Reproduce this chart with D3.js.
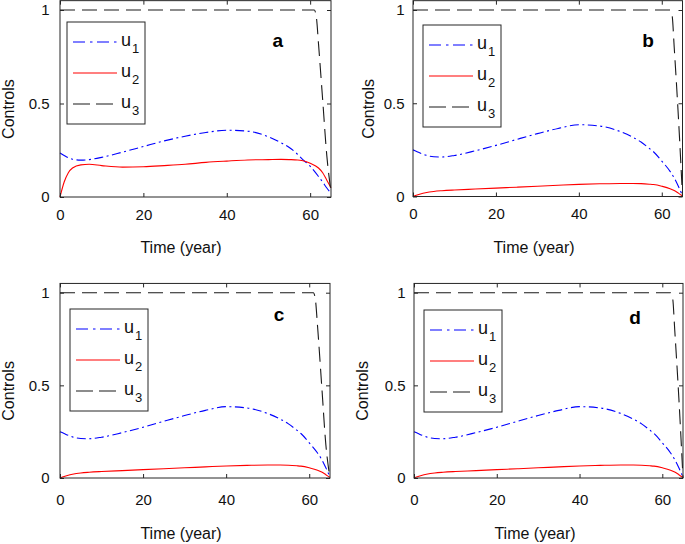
<!DOCTYPE html>
<html><head><meta charset="utf-8">
<script src="https://cdn.jsdelivr.net/npm/d3@7"></script>
<style>body{margin:0;background:#fff} svg{display:block}</style>
</head><body>
<svg id="chart" width="685" height="544"></svg>
<script>
// ---- data ----
const time = [0,1,2,3,5,7,10,15,20,25,30,35,40,45,50,53,55,57,58,60,62,63,64,65];
const u1A = [0.235,0.222,0.21,0.202,0.197,0.2,0.212,0.24,0.27,0.3,0.325,0.345,0.357,0.352,0.322,0.29,0.265,0.228,0.205,0.165,0.11,0.08,0.048,0.02];
const u2A = [0,0.08,0.13,0.155,0.172,0.175,0.168,0.16,0.162,0.168,0.175,0.185,0.192,0.198,0.2,0.201,0.2,0.198,0.195,0.18,0.155,0.13,0.09,0.05];
const u1B = [0.25,0.24,0.23,0.222,0.213,0.212,0.22,0.245,0.274,0.306,0.337,0.365,0.385,0.378,0.348,0.318,0.292,0.258,0.24,0.19,0.135,0.1,0.055,0.005];
const u2B = [0,0.008,0.015,0.02,0.027,0.031,0.035,0.04,0.045,0.05,0.055,0.06,0.065,0.068,0.07,0.07,0.069,0.066,0.064,0.055,0.042,0.032,0.018,0.003];
const timeU3Early = [0,61,61.5,62,63,64,65];
const u3A = [1,1,0.96,0.82,0.52,0.22,0.03];
const u3C = [1,1,0.96,0.82,0.5,0.18,0];
const timeU3Late = [0,62,62.5,63,64,65];
const u3B = [1,1,0.97,0.8,0.43,0];

const panelLabels = ["a","b","c","d"];
const seriesSubscripts = ["1","2","3"];
const xTicks = [0,20,40,60];
const yTicks = [0,0.5,1];
const xTitle = "Time (year)";
const yTitle = "Controls";

const panelSeries = [
  [[time,u1A],[time,u2A],[timeU3Early,u3A]],
  [[time,u1B],[time,u2B],[timeU3Late,u3B]],
  [[time,u1B],[time,u2B],[timeU3Early,u3C]],
  [[time,u1B],[time,u2B],[timeU3Late,u3B]]
];

// ---- layout ----
const layout = [
  {x0:60,  x1:331,   yb:197,   y1:10,    leg:[67,22],  lab:[277.7,46.7], tickPad:12,   titleDy:50.8, ylabX:8},
  {x0:413, x1:682.5, yb:196.5, y1:10,    leg:[423,25], lab:[648,47.3],   tickPad:12,   titleDy:51.3, ylabX:368},
  {x0:60,  x1:330,   yb:478,   y1:292.7, leg:[70,309], lab:[279,321.3],  tickPad:16.5, titleDy:55.5, ylabX:8},
  {x0:414, x1:683,   yb:478,   y1:292.7, leg:[424,310],lab:[635,324.3],  tickPad:16.5, titleDy:55.5, ylabX:362}
];
const yTop = 1.05;
const styles = [
  {color:"#0000ff", dash:"9,3.5,2,3.5", legDash:"12,5,2.5,4.5"},
  {color:"#ff0000", dash:null, legDash:null},
  {color:"#1a1a1a", dash:"15,7", legDash:"17,6"}
];
const axisColor = "#262626";
const textColor = "#111";
const font = "'Liberation Sans', Arial, Helvetica, sans-serif";

const svg = d3.select("#chart").style("font-family", font);

layout.forEach((L, i) => {
  const x = d3.scaleLinear().domain([0,65]).range([L.x0, L.x1]);
  const y = d3.scaleLinear().domain([0,1]).range([L.yb, L.y1]);
  const top = y(yTop);
  const g = svg.append("g");

  // series
  const line = d3.line().x(d => x(d[0])).y(d => y(d[1])).curve(d3.curveMonotoneX);
  panelSeries[i].forEach((s, k) => {
    const pts = s[0].map((t, j) => [t, s[1][j]]);
    g.append("path").attr("d", line(pts)).attr("fill","none")
      .attr("stroke", styles[k].color).attr("stroke-width", 1.1)
      .attr("stroke-dasharray", styles[k].dash);
  });

  // axes
  const xb = g.append("g").attr("transform", `translate(0,${L.yb})`)
    .call(d3.axisBottom(x).tickValues(xTicks).tickSizeInner(-4).tickSizeOuter(0).tickPadding(L.tickPad).tickFormat(d3.format("d")));
  const xt = g.append("g").attr("transform", `translate(0,${top})`)
    .call(d3.axisTop(x).tickValues(xTicks).tickSizeInner(-4).tickSizeOuter(0).tickFormat(""));
  const yl = g.append("g").attr("transform", `translate(${L.x0},0)`)
    .call(d3.axisLeft(y).tickValues(yTicks).tickSizeInner(-4).tickSizeOuter(0).tickPadding(i % 2 ? 8.5 : 10.5).tickFormat(d => d === 0.5 ? "0.5" : d3.format("d")(d)));
  const yr = g.append("g").attr("transform", `translate(${L.x1},0)`)
    .call(d3.axisRight(y).tickValues(yTicks).tickSizeInner(-4).tickSizeOuter(0).tickFormat(""));
  [xb,xt,yl,yr].forEach(a => {
    a.select(".domain").remove();
    a.selectAll("line").attr("stroke", axisColor);
    a.selectAll("text").attr("fill", textColor).style("font-size","15px").style("font-family", font);
  });

  // frame
  g.append("rect").attr("x", L.x0).attr("y", top).attr("width", L.x1 - L.x0).attr("height", L.yb - top)
    .attr("fill","none").attr("stroke", axisColor).attr("stroke-width", 1);

  // titles
  g.append("text").attr("x", L.x0 + 121).attr("y", L.yb + L.titleDy).attr("dy","0.35em")
    .attr("text-anchor","middle").style("font-size","16px").attr("fill",textColor).text(xTitle);
  g.append("text").attr("transform", `translate(${L.ylabX},${y(0.47)}) rotate(-90)`).attr("dy","0.35em")
    .attr("text-anchor","middle").style("font-size","16px").attr("fill",textColor).text(yTitle);

  // panel label
  g.append("text").attr("x", L.lab[0]).attr("y", L.lab[1]).attr("text-anchor","middle")
    .style("font-size","19px").style("font-weight","bold").attr("fill","#000").text(panelLabels[i]);

  // legend
  const lg = g.append("g").attr("transform", `translate(${L.leg[0]},${L.leg[1]})`);
  lg.append("rect").attr("width",78).attr("height",102).attr("fill","#fff").attr("stroke",axisColor).attr("stroke-width",1);
  seriesSubscripts.forEach((sub, k) => {
    const ly = 20 + k * 31;
    lg.append("line").attr("x1",6).attr("x2",50).attr("y1",ly).attr("y2",ly)
      .attr("stroke", styles[k].color).attr("stroke-width",1.1).attr("stroke-dasharray", styles[k].legDash);
    const t = lg.append("text").attr("x",54).attr("y",ly + 3.5).attr("fill",textColor).style("font-size","18px");
    t.append("tspan").text("u");
    t.append("tspan").attr("dy", 7.5).attr("dx", 1).style("font-size","13px").text(sub);
  });
});
</script>
</body></html>
